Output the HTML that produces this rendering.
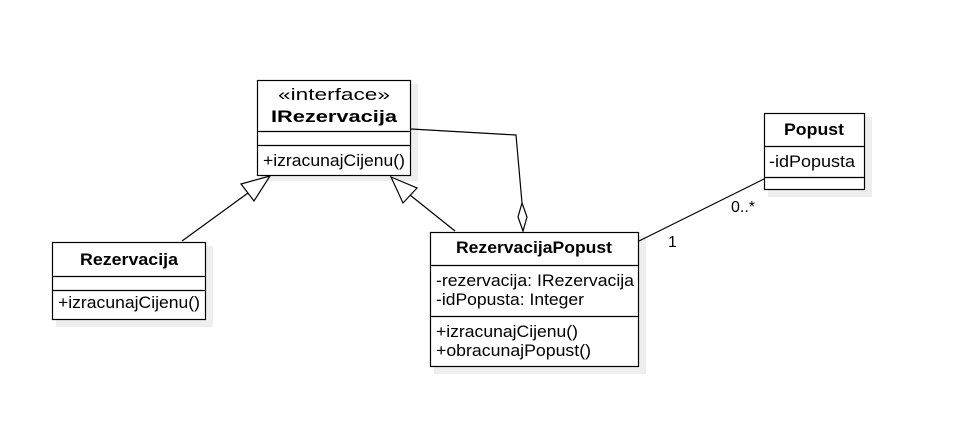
<!DOCTYPE html>
<html><head><style>
body{margin:0;background:#fff;width:955px;height:418px;overflow:hidden;font-family:"Liberation Sans",sans-serif;}
</style></head><body>
<svg width="955" height="418" xmlns="http://www.w3.org/2000/svg" font-family="Liberation Sans, sans-serif" font-size="17" fill="#000">
<g fill="#eee" stroke="none">
<rect x="261" y="84" width="157" height="97"/>
<rect x="768" y="117" width="104" height="80"/>
<rect x="434" y="236" width="212" height="138"/>
<rect x="56" y="246" width="157" height="81"/>
</g>
<g fill="#fff" stroke="#000" stroke-width="1.2">
<rect x="257.5" y="80.5" width="153" height="95"/>
<line x1="257.5" y1="131.5" x2="410.5" y2="131.5"/>
<line x1="257.5" y1="145.5" x2="410.5" y2="145.5"/>
<rect x="764.5" y="113.5" width="100" height="76"/>
<line x1="764.5" y1="146.5" x2="864.5" y2="146.5"/>
<line x1="764.5" y1="177.5" x2="864.5" y2="177.5"/>
<rect x="430.5" y="232.5" width="208" height="134"/>
<line x1="430.5" y1="265.5" x2="638.5" y2="265.5"/>
<line x1="430.5" y1="316.5" x2="638.5" y2="316.5"/>
<rect x="52.5" y="242.5" width="153" height="77"/>
<line x1="52.5" y1="276.5" x2="205.5" y2="276.5"/>
<line x1="52.5" y1="290.5" x2="205.5" y2="290.5"/>
</g>
<g stroke="#000" stroke-width="1.2" fill="none">
<line x1="182" y1="241" x2="248" y2="193"/>
<polygon points="270,176 241,184 254,201" fill="#fff"/>
<line x1="455" y1="231" x2="410" y2="195"/>
<polygon points="391,177 417,188 403,203" fill="#fff"/>
<polyline points="411,129 516,135 522,203"/>
<polygon points="522,203 527,217 523,231 518,217" fill="#fff"/>
<line x1="639" y1="241" x2="764" y2="179"/>
</g>
<text x="334" y="100" text-anchor="middle" textLength="112" lengthAdjust="spacingAndGlyphs">«interface»</text>
<text x="334" y="122" text-anchor="middle" font-weight="bold" textLength="126" lengthAdjust="spacingAndGlyphs">IRezervacija</text>
<text x="263" y="166" textLength="142" lengthAdjust="spacingAndGlyphs">+izracunajCijenu()</text>
<text x="814" y="135" text-anchor="middle" font-weight="bold" textLength="60" lengthAdjust="spacingAndGlyphs">Popust</text>
<text x="769" y="167" textLength="86" lengthAdjust="spacingAndGlyphs">-idPopusta</text>
<text x="534" y="253" text-anchor="middle" font-weight="bold" textLength="156" lengthAdjust="spacingAndGlyphs">RezervacijaPopust</text>
<text x="436" y="286" textLength="198" lengthAdjust="spacingAndGlyphs">-rezervacija: IRezervacija</text>
<text x="436" y="305" textLength="148" lengthAdjust="spacingAndGlyphs">-idPopusta: Integer</text>
<text x="436" y="337" textLength="142" lengthAdjust="spacingAndGlyphs">+izracunajCijenu()</text>
<text x="436" y="356" textLength="155" lengthAdjust="spacingAndGlyphs">+obracunajPopust()</text>
<text x="129" y="265" text-anchor="middle" font-weight="bold" textLength="98" lengthAdjust="spacingAndGlyphs">Rezervacija</text>
<text x="58" y="308" textLength="142" lengthAdjust="spacingAndGlyphs">+izracunajCijenu()</text>
<text x="731" y="212" font-size="16">0..*</text>
<text x="668" y="247" font-size="16">1</text>
</svg>
</body></html>
